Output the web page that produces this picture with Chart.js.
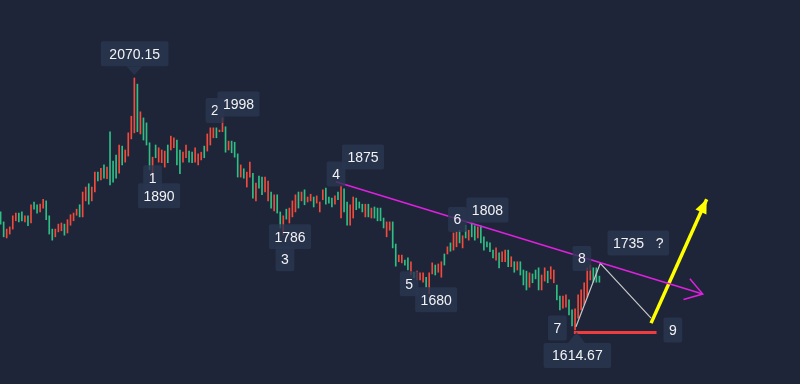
<!DOCTYPE html>
<html><head><meta charset="utf-8">
<script src="https://cdn.jsdelivr.net/npm/chart.js@4.4.1/dist/chart.umd.min.js"></script>
<style>
html,body{margin:0;padding:0;background:#1e2538;}
#wrap{position:relative;width:800px;height:384px;}
</style></head><body>
<div id="wrap"><canvas id="c"></canvas></div>
<script>
// ---- candle data (one entry per bar) ----
const highs = [
1828,1810,1797,1801,1821,1826,1826,1828,1821,1821,
1841,1846,1841,1842,1851,1848,1821,1797,1797,1806,
1808,1806,1814,1823,1826,1833,1841,1864,1873,1879,
1873,1900,1900,1907,1913,1909,1973,1920,1931,1949,
1947,1940,1971,2001,2070.15,2059,2009,1998,1989,1953,
1927,1949,1944,1940,1938,1949,1965,1962,1958,1940,
1936,1949,1938,1936,1944,1933,1936,1947,1969,1980,
1980,1980,1976,1998,1982,1956,1956,1954,1933,1913,
1906,1900,1918,1898,1880,1893,1891,1891,1884,1864,
1859,1859,1828,1821,1833,1835,1848,1859,1864,1864,
1868,1855,1860,1855,1857,1846,1868,1871,1855,1853,
1857,1864,1875,1870,1846,1841,1855,1853,1846,1842,
1842,1842,1835,1837,1835,1835,1817,1810,1810,1810,
1770,1750,1750,1741,1745,1738,1719,1721,1718,1718,
1710,1718,1736,1732,1734,1738,1752,1765,1772,1790,
1792,1795,1785,1804,1795,1808,1803,1801,1803,1783,
1774,1772,1759,1763,1754,1756,1759,1759,1747,1738,
1738,1738,1723,1721,1718,1716,1723,1727,1714,1727,
1721,1729,1723,1696,1676,1676,1678,1669,1651,1653,
1678,1687,1700,1727,1732,1727,1727,1712];
const lows = [
1806,1783,1781,1788,1797,1812,1810,1812,1810,1803,
1808,1833,1826,1828,1835,1814,1788,1777,1783,1792,
1794,1786,1790,1804,1812,1822,1819,1819,1848,1842,
1848,1864,1884,1886,1889,1888,1877,1882,1889,1898,
1913,1918,1929,1960,1971,1973,1969,1958,1949,1904,
1890,1926,1918,1917,1909,1917,1940,1944,1913,1897,
1918,1926,1918,1917,1918,1913,1922,1926,1938,1949,
1962,1962,1973,1973,1936,1940,1935,1927,1891,1891,
1889,1873,1891,1853,1848,1871,1859,1864,1848,1835,
1830,1826,1799,1786,1815,1808,1819,1828,1835,1848,
1841,1846,1848,1837,1844,1828,1850,1842,1844,1837,
1842,1850,1817,1828,1804,1804,1817,1832,1835,1828,
1819,1819,1817,1817,1812,1812,1799,1783,1795,1763,
1730,1738,1736,1732,1723,1714,1709,1705,1705,1701,
1692,1680,1716,1714,1719,1710,1732,1752,1757,1759,
1765,1772,1763,1781,1777,1783,1777,1781,1772,1759,
1765,1756,1745,1741,1727,1738,1738,1729,1729,1719,
1723,1714,1696,1687,1692,1700,1707,1687,1687,1703,
1700,1707,1700,1669,1651,1654,1656,1642,1622,1614.67,
1636,1651,1660,1674,1705,1701,1701,1701];
// g = up (green), r = down (red)
const directions = (
"ggrrrrggrg"+"rggrrgggrr"+"rgrrrrgrrg"+"rrgrgrgggr"+"grrrrgrggg"+
"rgrrrgrrgg"+"rrggrrrgrr"+"rgrrgrgggr"+"grrgrggrrg"+"rggrgrrrgr"+
"grrgrrrggg"+"rgrggrrggg"+"rgrggggrrg"+"grrggrgrrr"+"grrgrrgrgr"+
"rgrgrggrgg"+"gggrgrrgrg"+"rgggrgggrr"+"grrggrrggr"+"rrrrrggg").split("");

// ---- wave annotation data ----
const waveNames  = ["1","2","3","4","5","6","7","8","9"];
const waveIndex  = [50, 73, 93, 112, 141, 155, 189, 197.3, 214];
const wavePrice  = [1890, 1998, 1786, 1875, 1680, 1808, 1614.67, 1735, 1636];
const priceTexts = ["1890","1998","1786","1875","1680","1808","1614.67","1735   ?", null];
const peakIndex = 44, peakPrice = 2070.15, peakText = "2070.15";

// trend line (4 -> 6 -> projected), projected zigzag 7-8-9, breakout arrow, support at 7
const trendX = [110.3, 231.0];   const trendY = [1882.7, 1679.7];
const zigX   = [189.3, 197.3, 214.0]; const zigY = [1620.5, 1735, 1636];
const arrowX = [214.0, 232.3];   const arrowY = [1627, 1851];
const supportX = [188.6, 215.8]; const supportY = [1610, 1610];

// axis ranges
const xMin = -0.2, xMax = 263.0, yMin = 1517.0, yMax = 2211.1;

// ---- styles ----
const GREEN = "#2fbf85", RED = "#f04b3c";
const BOX = "rgba(42,54,81,0.78)", TXT = "#f2f3f5";
const FONT = '14px "Liberation Sans", Arial, sans-serif';
// pixel offsets of label boxes from their anchor point
const waveOffsets  = [[0,0],[-7.5,-7.3],[1.7,23.5],[-5,-12],[-20,-10],[-14.3,-3.5],[-17.7,-2],[-18.4,-5],[21.8,11.8]];
const priceOffsets = [[6.5,18],[16,-13.8],[6.7,1.5],[22,-29],[7,6],[15.7,-13],[2.3,25.5],[38,-20.4],null];

const pts = (xs, ys) => xs.map((x,i)=>({x, y: ys[i]}));

function roundRect(ctx, x, y, w, h, r){
  ctx.beginPath();
  ctx.moveTo(x+r,y); ctx.lineTo(x+w-r,y); ctx.quadraticCurveTo(x+w,y,x+w,y+r);
  ctx.lineTo(x+w,y+h-r); ctx.quadraticCurveTo(x+w,y+h,x+w-r,y+h);
  ctx.lineTo(x+r,y+h); ctx.quadraticCurveTo(x,y+h,x,y+h-r);
  ctx.lineTo(x,y+r); ctx.quadraticCurveTo(x,y,x+r,y); ctx.closePath();
}
function labelBox(ctx, cx, cy, text, padX){
  ctx.font = FONT;
  const w = ctx.measureText(text).width + padX*2, h = 25;
  ctx.fillStyle = BOX; roundRect(ctx, cx-w/2, cy-h/2, w, h, 2); ctx.fill();
  ctx.fillStyle = TXT; ctx.textAlign = "center"; ctx.textBaseline = "middle";
  ctx.fillText(text, cx, cy+1);
  return {w,h};
}

const overlay = {
  id: "overlay",
  afterDatasetsDraw(chart){
    const {ctx} = chart; const xs = chart.scales.x, ys = chart.scales.y;
    ctx.save();
    // magenta open arrowhead
    {
      const x1 = xs.getPixelForValue(trendX[0]), y1 = ys.getPixelForValue(trendY[0]);
      const x2 = xs.getPixelForValue(trendX[1]), y2 = ys.getPixelForValue(trendY[1]);
      const a = Math.atan2(y2-y1, x2-x1), L = 20, s = 33*Math.PI/180;
      ctx.strokeStyle = "#e020e0"; ctx.lineWidth = 1.5;
      ctx.beginPath();
      ctx.moveTo(x2 - L*Math.cos(a-s), y2 - L*Math.sin(a-s));
      ctx.lineTo(x2, y2);
      ctx.lineTo(x2 - L*Math.cos(a+s), y2 - L*Math.sin(a+s));
      ctx.stroke();
    }
    // yellow filled arrowhead
    {
      const x1 = xs.getPixelForValue(arrowX[0]), y1 = ys.getPixelForValue(arrowY[0]);
      const x2 = xs.getPixelForValue(arrowX[1]), y2 = ys.getPixelForValue(arrowY[1]);
      const a = Math.atan2(y2-y1, x2-x1), L = 14, W = 6;
      const bx = x2 - L*Math.cos(a), by = y2 - L*Math.sin(a);
      ctx.fillStyle = "#ffff00";
      ctx.beginPath();
      ctx.moveTo(x2, y2);
      ctx.lineTo(bx + W*Math.sin(a), by - W*Math.cos(a));
      ctx.lineTo(bx - W*Math.sin(a), by + W*Math.cos(a));
      ctx.closePath(); ctx.fill();
    }
    // wave number labels
    waveNames.forEach((n,i)=>{
      const ax = xs.getPixelForValue(waveIndex[i]), ay = ys.getPixelForValue(wavePrice[i]);
      const o = waveOffsets[i];
      labelBox(ctx, ax+o[0], ay+o[1], n, 5.5);
    });
    // price labels
    priceTexts.forEach((t,i)=>{
      if(!t) return;
      const ax = xs.getPixelForValue(waveIndex[i]), ay = ys.getPixelForValue(wavePrice[i]);
      const o = priceOffsets[i];
      const callout = (i === 6);
      const cx = ax+o[0], cy = ay+o[1];
      if(callout){
        ctx.fillStyle = BOX; ctx.beginPath();
        ctx.moveTo(ax+1.5-8.5, cy-12.5); ctx.lineTo(ax+1.5, ay+2); ctx.lineTo(ax+1.5+8.5, cy-12.5);
        ctx.closePath(); ctx.fill();
      }
      labelBox(ctx, cx, cy, t, callout ? 8.5 : 5.5);
    });
    // peak callout
    {
      const ax = xs.getPixelForValue(peakIndex), ay = ys.getPixelForValue(peakPrice);
      const cx = ax+0.3, cy = ay-24.2;
      ctx.fillStyle = BOX; ctx.beginPath();
      ctx.moveTo(ax-8, cy+12.5); ctx.lineTo(ax, ay-3); ctx.lineTo(ax+8, cy+12.5);
      ctx.closePath(); ctx.fill();
      labelBox(ctx, cx, cy, peakText, 8.5);
    }
    ctx.restore();
  }
};

const lineDs = (data, color, width) => ({
  type: "line", data, borderColor: color, borderWidth: width,
  pointRadius: 0, fill: false, tension: 0, order: 0
});

new Chart(document.getElementById("c"), {
  type: "bar",
  data: {
    datasets: [
      {
        type: "bar",
        data: highs.map((h,i)=>({x: i, y: [lows[i], h]})),
        backgroundColor: directions.map(d => d === "g" ? GREEN : RED),
        borderWidth: 0, barThickness: 1, order: 5
      },
      lineDs(pts(trendX, trendY), "#e020e0", 1.5),
      lineDs(pts(zigX, zigY), "#c8c8c8", 1.2),
      lineDs(pts(arrowX, arrowY), "#ffff00", 3.5),
      lineDs(pts(supportX, supportY), "#f03c3c", 3)
    ]
  },
  options: {
    responsive: true, maintainAspectRatio: false, animation: false,
    layout: {padding: 0},
    plugins: {legend: {display: false}, tooltip: {enabled: false}},
    scales: {
      x: {type: "linear", min: xMin, max: xMax, display: false, offset: false},
      y: {type: "linear", min: yMin, max: yMax, display: false}
    }
  },
  plugins: [overlay]
});
</script>
</body></html>
